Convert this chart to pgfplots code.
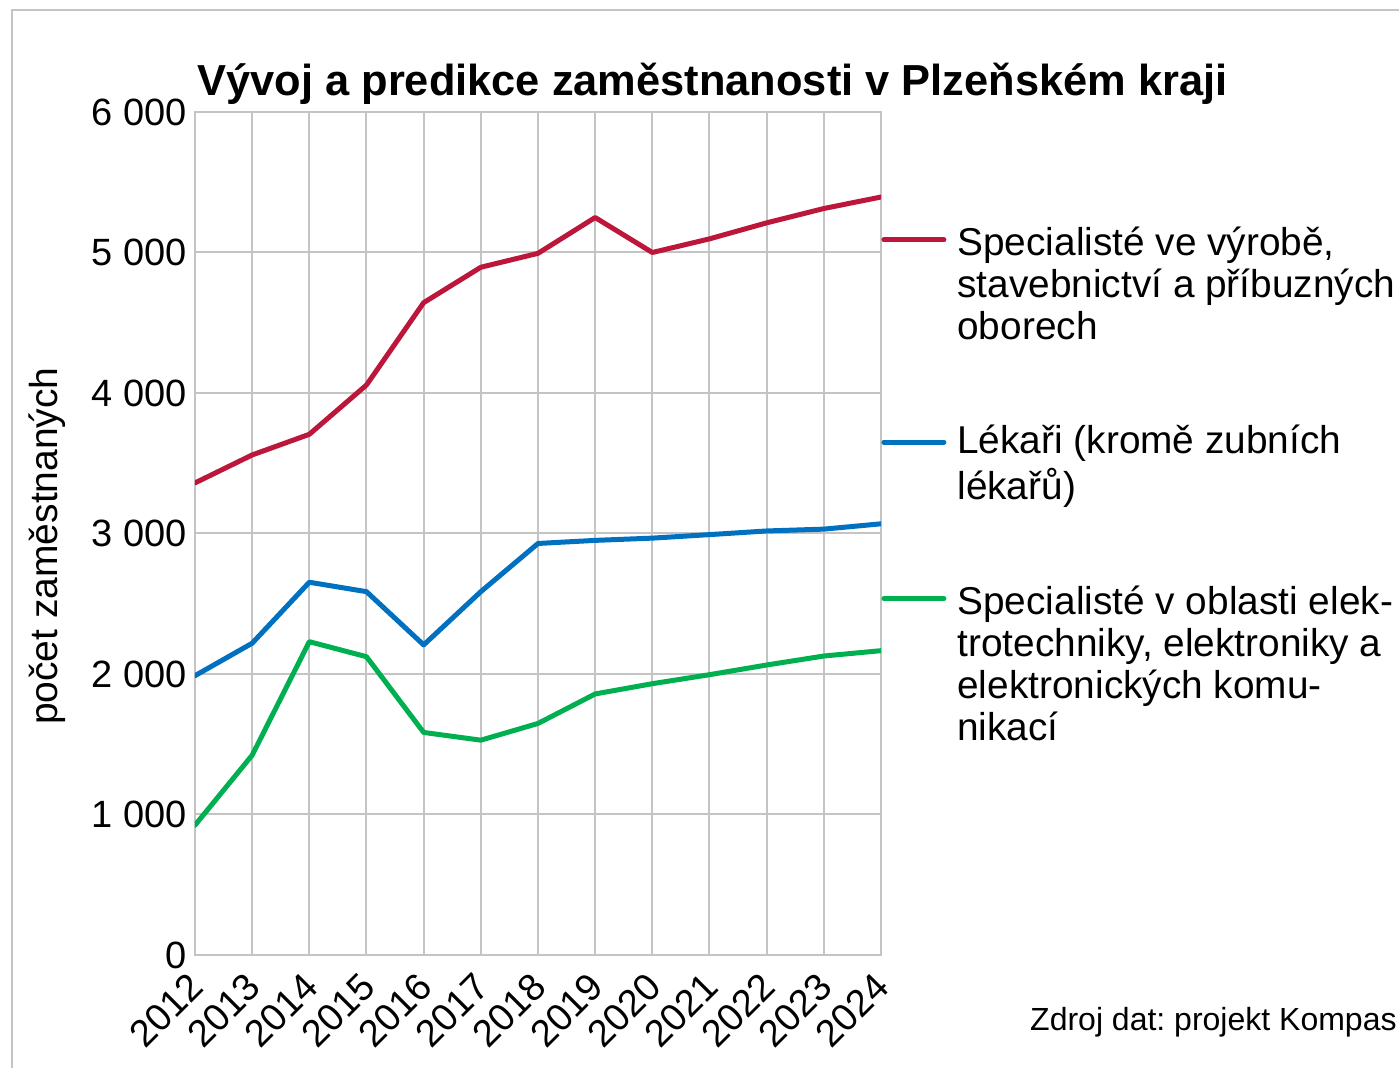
\documentclass[border=0pt]{standalone}
\usepackage{fontspec}
\setmainfont{Liberation Sans}
\usepackage{pgfplots}
\usepackage{pgfplotstable}
\pgfplotsset{compat=1.18}
\definecolor{cred}{RGB}{188,22,58}
\definecolor{cblue}{RGB}{0,112,192}
\definecolor{cgreen}{RGB}{0,176,80}
\definecolor{cgrid}{RGB}{196,196,196}
\frenchspacing

\pgfplotstableread{
year red blue green
2012 3360 1988 924
2013 3559 2219 1422
2014 3706 2653 2230
2015 4057 2586 2123
2016 4643 2207 1584
2017 4895 2586 1529
2018 4994 2929 1648
2019 5249 2951 1858
2020 5000 2967 1931
2021 5097 2992 1995
2022 5211 3018 2064
2023 5313 3031 2128
2024 5395 3069 2166
}\datatable

\begin{document}
\begin{tikzpicture}
\useasboundingbox (0,0) rectangle (699.5pt,533.5pt);
\draw[cgrid, line width=1pt] (6pt,-10pt) -- (6pt,528.5pt) -- (720pt,528.5pt);
\begin{axis}[
  at={(97.5pt,56pt)}, anchor=south west,
  scale only axis, width=343pt, height=421.5pt,
  xmin=2012, xmax=2024, ymin=0, ymax=6000,
  xtick={2012,...,2024}, ytick={0,1000,...,6000},
  grid=major, grid style={cgrid, line width=1pt},
  axis line style={cgrid, line width=1pt},
  tick style={draw=none},
  /pgf/number format/assume math mode=true,
  /pgf/number format/1000 sep={\ },
  x tick label style={/pgf/number format/1000 sep={}, xshift=-4pt, yshift=-7.5pt, rotate=45, anchor=north east, font=\fontsize{19}{21}\selectfont, inner sep=0pt},
  y tick label style={font=\fontsize{19}{21}\selectfont, inner sep=1pt, xshift=-3pt},
  title={Vývoj a predikce zaměstnanosti v Plzeňském kraji},
  title style={font=\bfseries\fontsize{21.7}{24}\selectfont, at={(rel axis cs:0.7544,1.0059)}, anchor=base, inner sep=0pt},
  ylabel={počet zaměstnaných},
  ylabel style={font=\fontsize{19.5}{21}\selectfont, at={(rel axis cs:-0.2157,0.485)}, anchor=center},
  legend style={draw=none, fill=none, at={(rel axis cs:1.0,0.870)}, anchor=north west,
    font=\fontsize{19.4}{21}\selectfont, cells={anchor=base west, align=left, inner sep=0pt},
    row sep=37pt, inner sep=0pt,
    /tikz/every odd column/.append style={column sep=3.5pt}},
  every axis plot/.append style={line width=2.5pt, line cap=round, line join=round},
]
\addplot[cred, legend image code/.code={\path[draw=none,fill=none] (0pt,0pt) -- (30pt,0pt); \draw[cred,line width=2.5pt,line cap=round] (0pt,49.7pt) -- (30pt,49.7pt);}] table[x=year, y=red] {\datatable};
\addlegendentry{\strut Specialisté ve výrobě,\\stavebnictví a příbuzných\\oborech\strut}
\addplot[cblue, legend image code/.code={\path[draw=none,fill=none] (0pt,0pt) -- (30pt,0pt); \draw[cblue,line width=2.5pt,line cap=round] (0pt,28.7pt) -- (30pt,28.7pt);}] table[x=year, y=blue] {\datatable};
\addlegendentry{\strut Lékaři (kromě zubních\\lékařů)\strut}
\addplot[cgreen, legend image code/.code={\path[draw=none,fill=none] (0pt,0pt) -- (30pt,0pt); \draw[cgreen,line width=2.5pt,line cap=round] (0pt,70.7pt) -- (30pt,70.7pt);}] table[x=year, y=green] {\datatable};
\addlegendentry{\strut Specialisté v oblasti elek-\\trotechniky, elektroniky a\\elektronických komu-\\nikací\strut}
\end{axis}
\node[anchor=base east, inner sep=0pt, font=\fontsize{16}{18}\selectfont] at (698.5pt,18.5pt) {Zdroj dat: projekt Kompas};
\end{tikzpicture}
\end{document}
